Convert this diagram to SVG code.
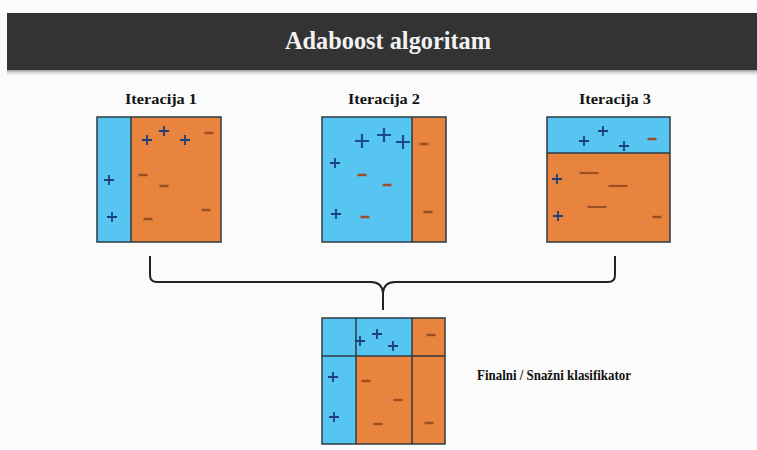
<svg xmlns="http://www.w3.org/2000/svg" xmlns:xlink="http://www.w3.org/1999/xlink" width="757" height="450" viewBox="0 0 757 450">
<defs>
<linearGradient id="shadow" x1="0" y1="0" x2="0" y2="1">
<stop offset="0" stop-color="#9a9a9a"/>
<stop offset="1" stop-color="#fafafa" stop-opacity="0"/>
</linearGradient>
<path id="p" d="M-5,0 H5 M0,-5 V5" stroke="#1e3f7a" stroke-width="1.8" fill="none"/>
<path id="pb" d="M-7,0 H7 M0,-7 V7" stroke="#1e4a8c" stroke-width="2.2" fill="none"/>
<path id="m" d="M-4.5,0 H4.5" stroke="#9c4f22" stroke-width="2.5" fill="none"/>
<path id="ml" d="M-9.5,0 H9.5" stroke="#9c4f22" stroke-width="2.2" fill="none"/>
</defs>
<style>
.blue{fill:#57c5f1}
.orange{fill:#e9843f}
.edge{fill:none;stroke:#2c3a42;stroke-width:1.5}
.lbl{font-family:"Liberation Serif","Times New Roman",serif;font-weight:bold;fill:#111}
.brace{fill:none;stroke:#222;stroke-width:2}
</style>
<rect width="757" height="450" fill="#fbfbfb"/>
<g id="header">
<rect x="7" y="70" width="750" height="7" fill="url(#shadow)"/>
<rect x="7" y="13" width="750" height="57" fill="#333333"/>
<text x="388" y="49" text-anchor="middle" class="lbl" style="fill:#f2f2f2;font-size:26px" textLength="206" lengthAdjust="spacingAndGlyphs">Adaboost algoritam</text>
</g>
<g id="iter1">
<text x="161" y="104" text-anchor="middle" class="lbl" font-size="15.5" textLength="72" lengthAdjust="spacingAndGlyphs">Iteracija 1</text>
<rect x="97" y="117" width="34" height="125" class="blue"/>
<rect x="131" y="117" width="90" height="125" class="orange"/>
<line x1="131" y1="117" x2="131" y2="242" class="edge"/>
<rect x="97" y="117" width="124" height="125" class="edge"/>
<use xlink:href="#p" x="147" y="140"/>
<use xlink:href="#p" x="164" y="131"/>
<use xlink:href="#p" x="185" y="140"/>
<use xlink:href="#m" x="209" y="133"/>
<use xlink:href="#p" x="109" y="180"/>
<use xlink:href="#p" x="112" y="217"/>
<use xlink:href="#m" x="143" y="175"/>
<use xlink:href="#m" x="164" y="186"/>
<use xlink:href="#m" x="206" y="210"/>
<use xlink:href="#m" x="148" y="219"/>
</g>
<g id="iter2">
<text x="384" y="104" text-anchor="middle" class="lbl" font-size="15.5" textLength="72" lengthAdjust="spacingAndGlyphs">Iteracija 2</text>
<rect x="322" y="117" width="90" height="125" class="blue"/>
<rect x="412" y="117" width="34" height="125" class="orange"/>
<line x1="412" y1="117" x2="412" y2="242" class="edge"/>
<rect x="322" y="117" width="124" height="125" class="edge"/>
<use xlink:href="#pb" x="362" y="141"/>
<use xlink:href="#pb" x="384" y="135"/>
<use xlink:href="#pb" x="403" y="142"/>
<use xlink:href="#p" x="335" y="163"/>
<use xlink:href="#p" x="336" y="214"/>
<use xlink:href="#m" x="362" y="175"/>
<use xlink:href="#m" x="387" y="185"/>
<use xlink:href="#m" x="424" y="144"/>
<use xlink:href="#m" x="428" y="212"/>
<use xlink:href="#m" x="365" y="217"/>
</g>
<g id="iter3">
<text x="615" y="104" text-anchor="middle" class="lbl" font-size="15.5" textLength="72" lengthAdjust="spacingAndGlyphs">Iteracija 3</text>
<rect x="547" y="117" width="123" height="36" class="blue"/>
<rect x="547" y="153" width="123" height="89" class="orange"/>
<line x1="547" y1="153" x2="670" y2="153" class="edge"/>
<rect x="547" y="117" width="123" height="125" class="edge"/>
<use xlink:href="#p" x="584" y="141"/>
<use xlink:href="#p" x="603" y="131"/>
<use xlink:href="#p" x="624" y="146"/>
<use xlink:href="#m" x="652" y="139"/>
<use xlink:href="#p" x="557" y="179"/>
<use xlink:href="#p" x="558" y="216"/>
<use xlink:href="#ml" x="589" y="173"/>
<use xlink:href="#ml" x="618" y="186"/>
<use xlink:href="#ml" x="597" y="207"/>
<use xlink:href="#m" x="657" y="217"/>
</g>
<g id="connectors">
<path class="brace" d="M150,256 V275 Q150,282 157,282 H371 Q382,282 383,293 V310"/>
<path class="brace" d="M615,256 V275 Q615,282 608,282 H395 Q384,282 383,293"/>
</g>
<g id="final">
<rect x="322" y="318" width="90" height="38" class="blue"/>
<rect x="412" y="318" width="33" height="38" class="orange"/>
<rect x="322" y="356" width="34" height="88" class="blue"/>
<rect x="356" y="356" width="89" height="88" class="orange"/>
<line x1="356" y1="318" x2="356" y2="444" class="edge"/>
<line x1="412" y1="318" x2="412" y2="444" class="edge"/>
<line x1="322" y1="356" x2="445" y2="356" class="edge"/>
<rect x="322" y="318" width="123" height="126" class="edge"/>
<use xlink:href="#p" x="360" y="341"/>
<use xlink:href="#p" x="377" y="334"/>
<use xlink:href="#p" x="393" y="346"/>
<use xlink:href="#m" x="431" y="335"/>
<use xlink:href="#p" x="333" y="377"/>
<use xlink:href="#p" x="334" y="417"/>
<use xlink:href="#m" x="366" y="381"/>
<use xlink:href="#m" x="398" y="400"/>
<use xlink:href="#m" x="378" y="424"/>
<use xlink:href="#m" x="429" y="423"/>
</g>
<g id="final-label">
<text x="477" y="380" class="lbl" font-size="15" textLength="154" lengthAdjust="spacingAndGlyphs">Finalni / Snažni klasifikator</text>
</g>
</svg>
